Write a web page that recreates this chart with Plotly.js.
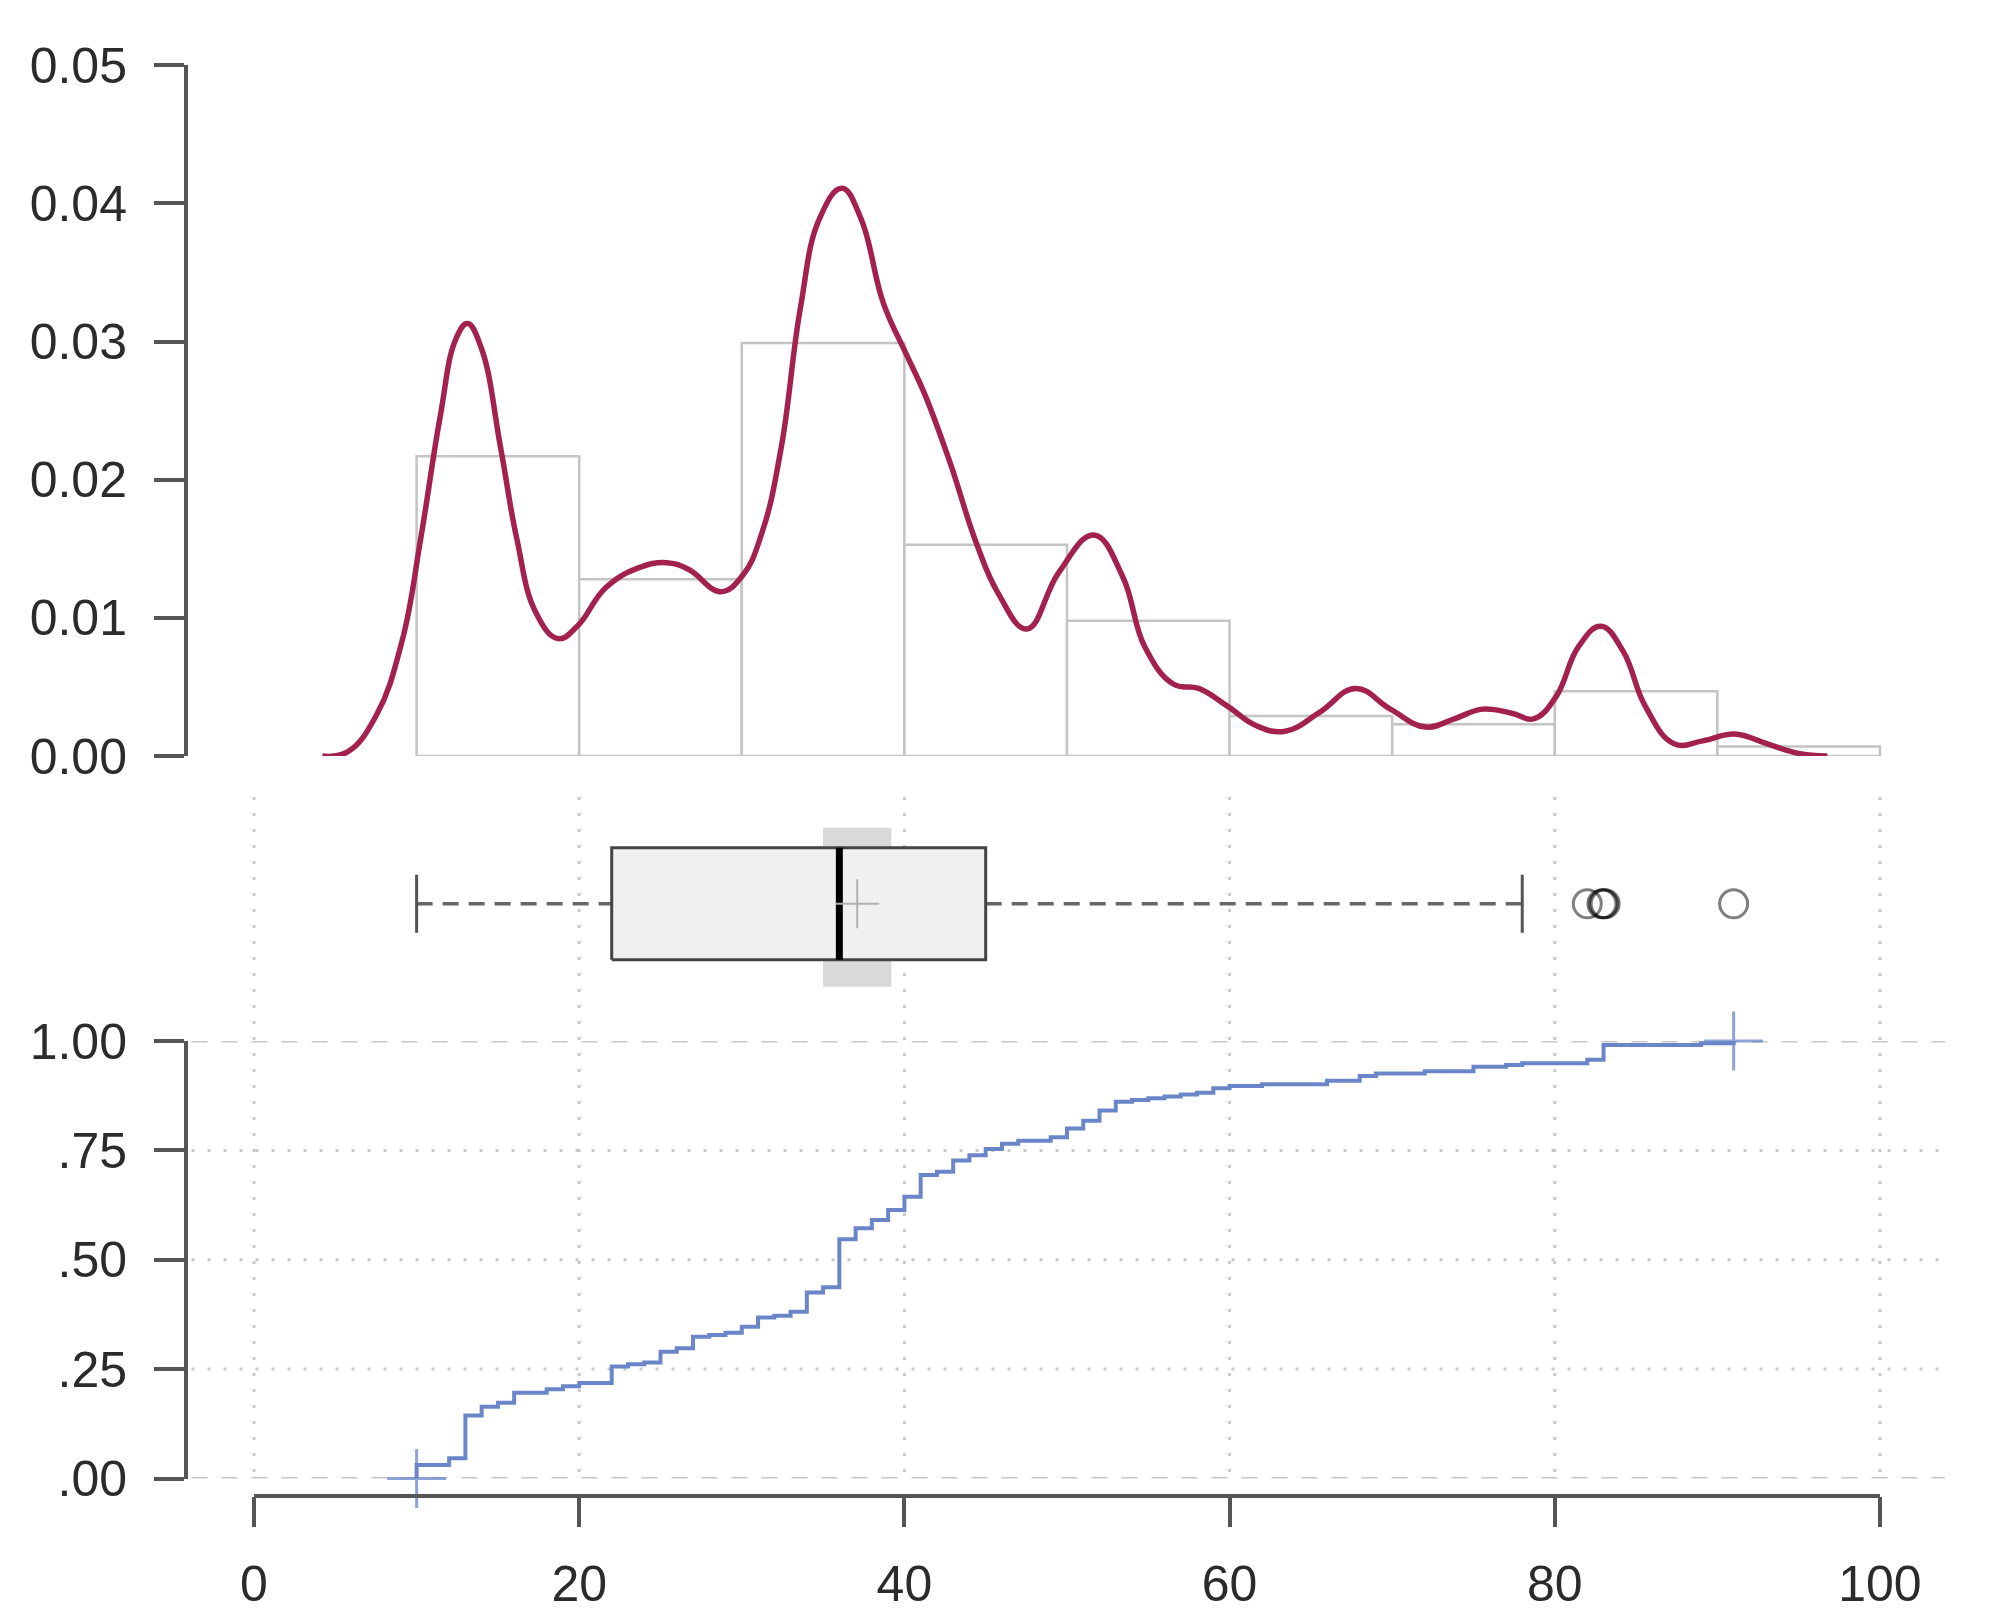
<!DOCTYPE html>
<html>
<head>
<meta charset="utf-8">
<script src="https://cdn.plot.ly/plotly-3.0.1.min.js"></script>
<style>html,body{margin:0;padding:0;background:#fff;}</style>
</head>
<body>
<div id="chart" style="width:1995px;height:1624px;"></div>
<script>
// ---------------- data ----------------
const binEdges = [10, 20, 30, 40, 50, 60, 70, 80, 90, 100];
const histDensity = [0.0217, 0.0128, 0.0299, 0.0153, 0.0098, 0.0029, 0.0023, 0.0047, 0.0007];

const kdeX = [4.2, 5.75, 7.5, 9.1, 10.26, 11.44, 12.42, 13.13, 13.99, 15.17, 16.15, 17.33, 18.7, 19.88, 21.64, 23.6, 25.37, 26.74, 28.7, 30.07, 31.25, 32.42, 33.6, 34.78, 36.15, 37.33, 38.7, 40.07, 41.25, 42.82, 44.4, 45.76, 47.53, 49.5, 51.66, 53.42, 54.79, 56.56, 58.1, 59.89, 61.65, 63.42, 65.58, 67.73, 69.89, 72.05, 73.82, 75.58, 77.35, 78.7, 80.08, 81.45, 82.83, 84.2, 85.57, 87.34, 89.1, 91.06, 93.03, 94.99, 96.76];
const kdeY = [0.0000, 0.0003, 0.0029, 0.0083, 0.0158, 0.0245, 0.0302, 0.0313, 0.0295, 0.0223, 0.0158, 0.0104, 0.0085, 0.0094, 0.0122, 0.0136, 0.0140, 0.0135, 0.0119, 0.0131, 0.0162, 0.0223, 0.0324, 0.0389, 0.0411, 0.0389, 0.0328, 0.0292, 0.0262, 0.0212, 0.0155, 0.0118, 0.0092, 0.0133, 0.0160, 0.0130, 0.0079, 0.0052, 0.0049, 0.0036, 0.0022, 0.0018, 0.0032, 0.0049, 0.0034, 0.0021, 0.0027, 0.0034, 0.0031, 0.0027, 0.0043, 0.0079, 0.0094, 0.0076, 0.0036, 0.0009, 0.0011, 0.0016, 0.0009, 0.0002, 0.0000];

// box plot statistics
const boxLowerWhisker = 10;
const boxQ1 = 22;
const boxMedian = 36;
const boxQ3 = 45;
const boxUpperWhisker = 78;
const boxMean = 37.1;
const medianCI = [35.0, 39.2];
const outliers = [82, 82.9, 83, 83.1, 91];

// empirical CDF (value, cumulative proportion after the step)
const ecdfX = [10, 12, 13, 14, 15, 16, 18, 19, 20, 22, 23, 24, 25, 26, 27, 28, 29, 30, 31, 32, 33, 34, 35, 36, 37, 38, 39, 40, 41, 42, 43, 44, 45, 46, 47, 49, 50, 51, 52, 53, 54, 55, 56, 57, 58, 59, 60, 62, 66, 68, 69, 72, 75, 77, 78, 82, 83, 89, 91];
const ecdfF = [0.031, 0.046, 0.144, 0.164, 0.173, 0.196, 0.204, 0.211, 0.218, 0.256, 0.261, 0.265, 0.290, 0.298, 0.324, 0.328, 0.333, 0.347, 0.368, 0.372, 0.381, 0.425, 0.437, 0.547, 0.572, 0.591, 0.614, 0.644, 0.694, 0.701, 0.727, 0.739, 0.753, 0.765, 0.772, 0.780, 0.800, 0.818, 0.841, 0.861, 0.865, 0.869, 0.873, 0.878, 0.882, 0.892, 0.897, 0.901, 0.909, 0.920, 0.926, 0.931, 0.941, 0.945, 0.949, 0.957, 0.991, 0.995, 1.000];

// tick labels
const xTicks = [0, 20, 40, 60, 80, 100];
const xTickText = ['0', '20', '40', '60', '80', '100'];
const densTicks = [0, 0.01, 0.02, 0.03, 0.04, 0.05];
const densTickText = ['0.00', '0.01', '0.02', '0.03', '0.04', '0.05'];
const cdfTicks = [0, 0.25, 0.5, 0.75, 1];
const cdfTickText = ['.00', '.25', '.50', '.75', '1.00'];

// ---------------- layout helpers ----------------
const W = 1995, H = 1624;
const py = p => 1 - p / H;
const xDomain = [188 / W, 1945 / W];
const xRange = [-4.06, 104.0];
const axisGrey = '#555';
const font = {family: 'Liberation Sans, Arial, sans-serif', size: 50, color: '#2b2b2b'};

const binMid = histDensity.map((_, i) => (binEdges[i] + binEdges[i + 1]) / 2);
const binW = histDensity.map((_, i) => binEdges[i + 1] - binEdges[i]);

const traces = [];
// histogram
traces.push({type: 'bar', x: binMid, y: histDensity, width: binW, xaxis: 'x', yaxis: 'y',
  marker: {color: '#ffffff', line: {color: '#c4c4c4', width: 2.5}}, hoverinfo: 'skip'});
// density
traces.push({type: 'scatter', mode: 'lines', x: kdeX, y: kdeY, xaxis: 'x', yaxis: 'y', cliponaxis: false,
  line: {color: '#a3214f', width: 5.5, shape: 'spline', smoothing: 1.2}});

// box plot pieces (yaxis2, centre at 0)
const bh = 0.56;
traces.push({type: 'scatter', mode: 'lines', xaxis: 'x2', yaxis: 'y2', fill: 'toself', fillcolor: '#d9d9d9',
  x: [medianCI[0], medianCI[1], medianCI[1], medianCI[0], medianCI[0]], y: [-0.83, -0.83, 0.76, 0.76, -0.83],
  line: {width: 0, color: 'rgba(0,0,0,0)'}});
traces.push({type: 'scatter', mode: 'lines', xaxis: 'x2', yaxis: 'y2',
  x: [boxLowerWhisker, boxQ1, null, boxQ3, boxUpperWhisker], y: [0, 0, null, 0, 0],
  line: {color: '#666', width: 3.5, dash: '16px,10px'}});
traces.push({type: 'scatter', mode: 'lines', xaxis: 'x2', yaxis: 'y2', cliponaxis: false,
  x: [boxLowerWhisker, boxLowerWhisker, null, boxUpperWhisker, boxUpperWhisker], y: [-0.29, 0.29, null, -0.29, 0.29],
  line: {color: '#555', width: 3}});
traces.push({type: 'scatter', mode: 'lines', xaxis: 'x2', yaxis: 'y2', fill: 'toself', fillcolor: '#f0f0f0',
  x: [boxQ1, boxQ3, boxQ3, boxQ1, boxQ1], y: [-bh, -bh, bh, bh, -bh],
  line: {color: '#444', width: 3}});
traces.push({type: 'scatter', mode: 'lines', xaxis: 'x2', yaxis: 'y2',
  x: [boxMedian, boxMedian], y: [-bh, bh], line: {color: '#000', width: 7}});
traces.push({type: 'scatter', mode: 'lines', xaxis: 'x2', yaxis: 'y2',
  x: [boxMean - 1.35, boxMean + 1.35, null, boxMean, boxMean], y: [0, 0, null, -0.245, 0.245],
  line: {color: '#b0b0b0', width: 2}});
traces.push({type: 'scatter', mode: 'markers', xaxis: 'x2', yaxis: 'y2', cliponaxis: false,
  x: outliers, y: outliers.map(() => 0),
  marker: {symbol: 'circle-open', size: 28, color: 'rgba(0,0,0,0.5)', line: {width: 3, color: 'rgba(0,0,0,0.5)'}}});

// ECDF
traces.push({type: 'scatter', mode: 'lines', xaxis: 'x3', yaxis: 'y3', cliponaxis: false,
  x: [ecdfX[0]].concat(ecdfX), y: [0].concat(ecdfF),
  line: {color: '#6a86c8', width: 4, shape: 'hv'}});
traces.push({type: 'scatter', mode: 'markers', xaxis: 'x3', yaxis: 'y3', cliponaxis: false,
  x: [ecdfX[0], ecdfX[ecdfX.length - 1]], y: [0, ecdfF[ecdfF.length - 1]],
  marker: {symbol: 'cross-thin', size: 42, color: 'rgba(106,134,200,0.75)', line: {width: 3, color: 'rgba(106,134,200,0.75)'}}});

// ---------------- shapes ----------------
const shapes = [];
// vertical dotted gridlines through box + ecdf panels
xTicks.forEach(v => shapes.push({type: 'line', layer: 'below', xref: 'x3', yref: 'paper', x0: v, x1: v,
  y0: py(1472), y1: py(793), line: {color: '#c8c8c8', width: 3, dash: '3px,13px'}}));
// horizontal gridlines in ecdf panel
cdfTicks.forEach(v => {
  const ends = (v === cdfTicks[0] || v === cdfTicks[cdfTicks.length - 1]);
  shapes.push({type: 'line', layer: 'below', xref: 'x3 domain', yref: 'y3', x0: 0.002, x1: 1, y0: v, y1: v,
    line: {color: '#c8c8c8', width: 3, dash: ends ? '16px,14px' : '3px,13px'}});
});
// bottom x axis line from first to last tick
shapes.push({type: 'line', layer: 'above', xref: 'x3', yref: 'paper', x0: xTicks[0], x1: xTicks[xTicks.length - 1],
  y0: py(1496), y1: py(1496), line: {color: axisGrey, width: 4}});

const yAxisCommon = {showline: true, linecolor: axisGrey, linewidth: 4, ticks: 'outside', ticklen: 30,
  tickwidth: 4, tickcolor: axisGrey, showgrid: false, zeroline: false, tickfont: font, ticklabelstandoff: 17,
  fixedrange: true};

const layout = {
  width: W, height: H, margin: {l: 0, r: 0, t: 0, b: 0},
  paper_bgcolor: '#fff', plot_bgcolor: 'rgba(0,0,0,0)', showlegend: false, font: font,
  bargap: 0,
  xaxis: {domain: xDomain, range: xRange, visible: false, anchor: 'y'},
  yaxis: Object.assign({domain: [py(756.1), py(65.2)], range: [0, 0.05], tickvals: densTicks, ticktext: densTickText, anchor: 'x'}, yAxisCommon),
  xaxis2: {domain: xDomain, range: xRange, visible: false, anchor: 'y2'},
  yaxis2: {domain: [py(1003.8), py(803.8)], range: [-1, 1], visible: false, anchor: 'x2'},
  xaxis3: {domain: xDomain, range: xRange, anchor: 'free', position: py(1496), side: 'bottom',
    tickvals: xTicks, ticktext: xTickText, ticks: 'outside', ticklen: 30, tickwidth: 4, tickcolor: axisGrey,
    showline: false, showgrid: false, zeroline: false, tickfont: font, ticklabelstandoff: 14},
  yaxis3: Object.assign({domain: [py(1478.5), py(1041)], range: [0, 1], tickvals: cdfTicks, ticktext: cdfTickText, anchor: 'x3'}, yAxisCommon),
  shapes: shapes
};

Plotly.newPlot('chart', traces, layout, {staticPlot: true, displayModeBar: false});
</script>
</body>
</html>
